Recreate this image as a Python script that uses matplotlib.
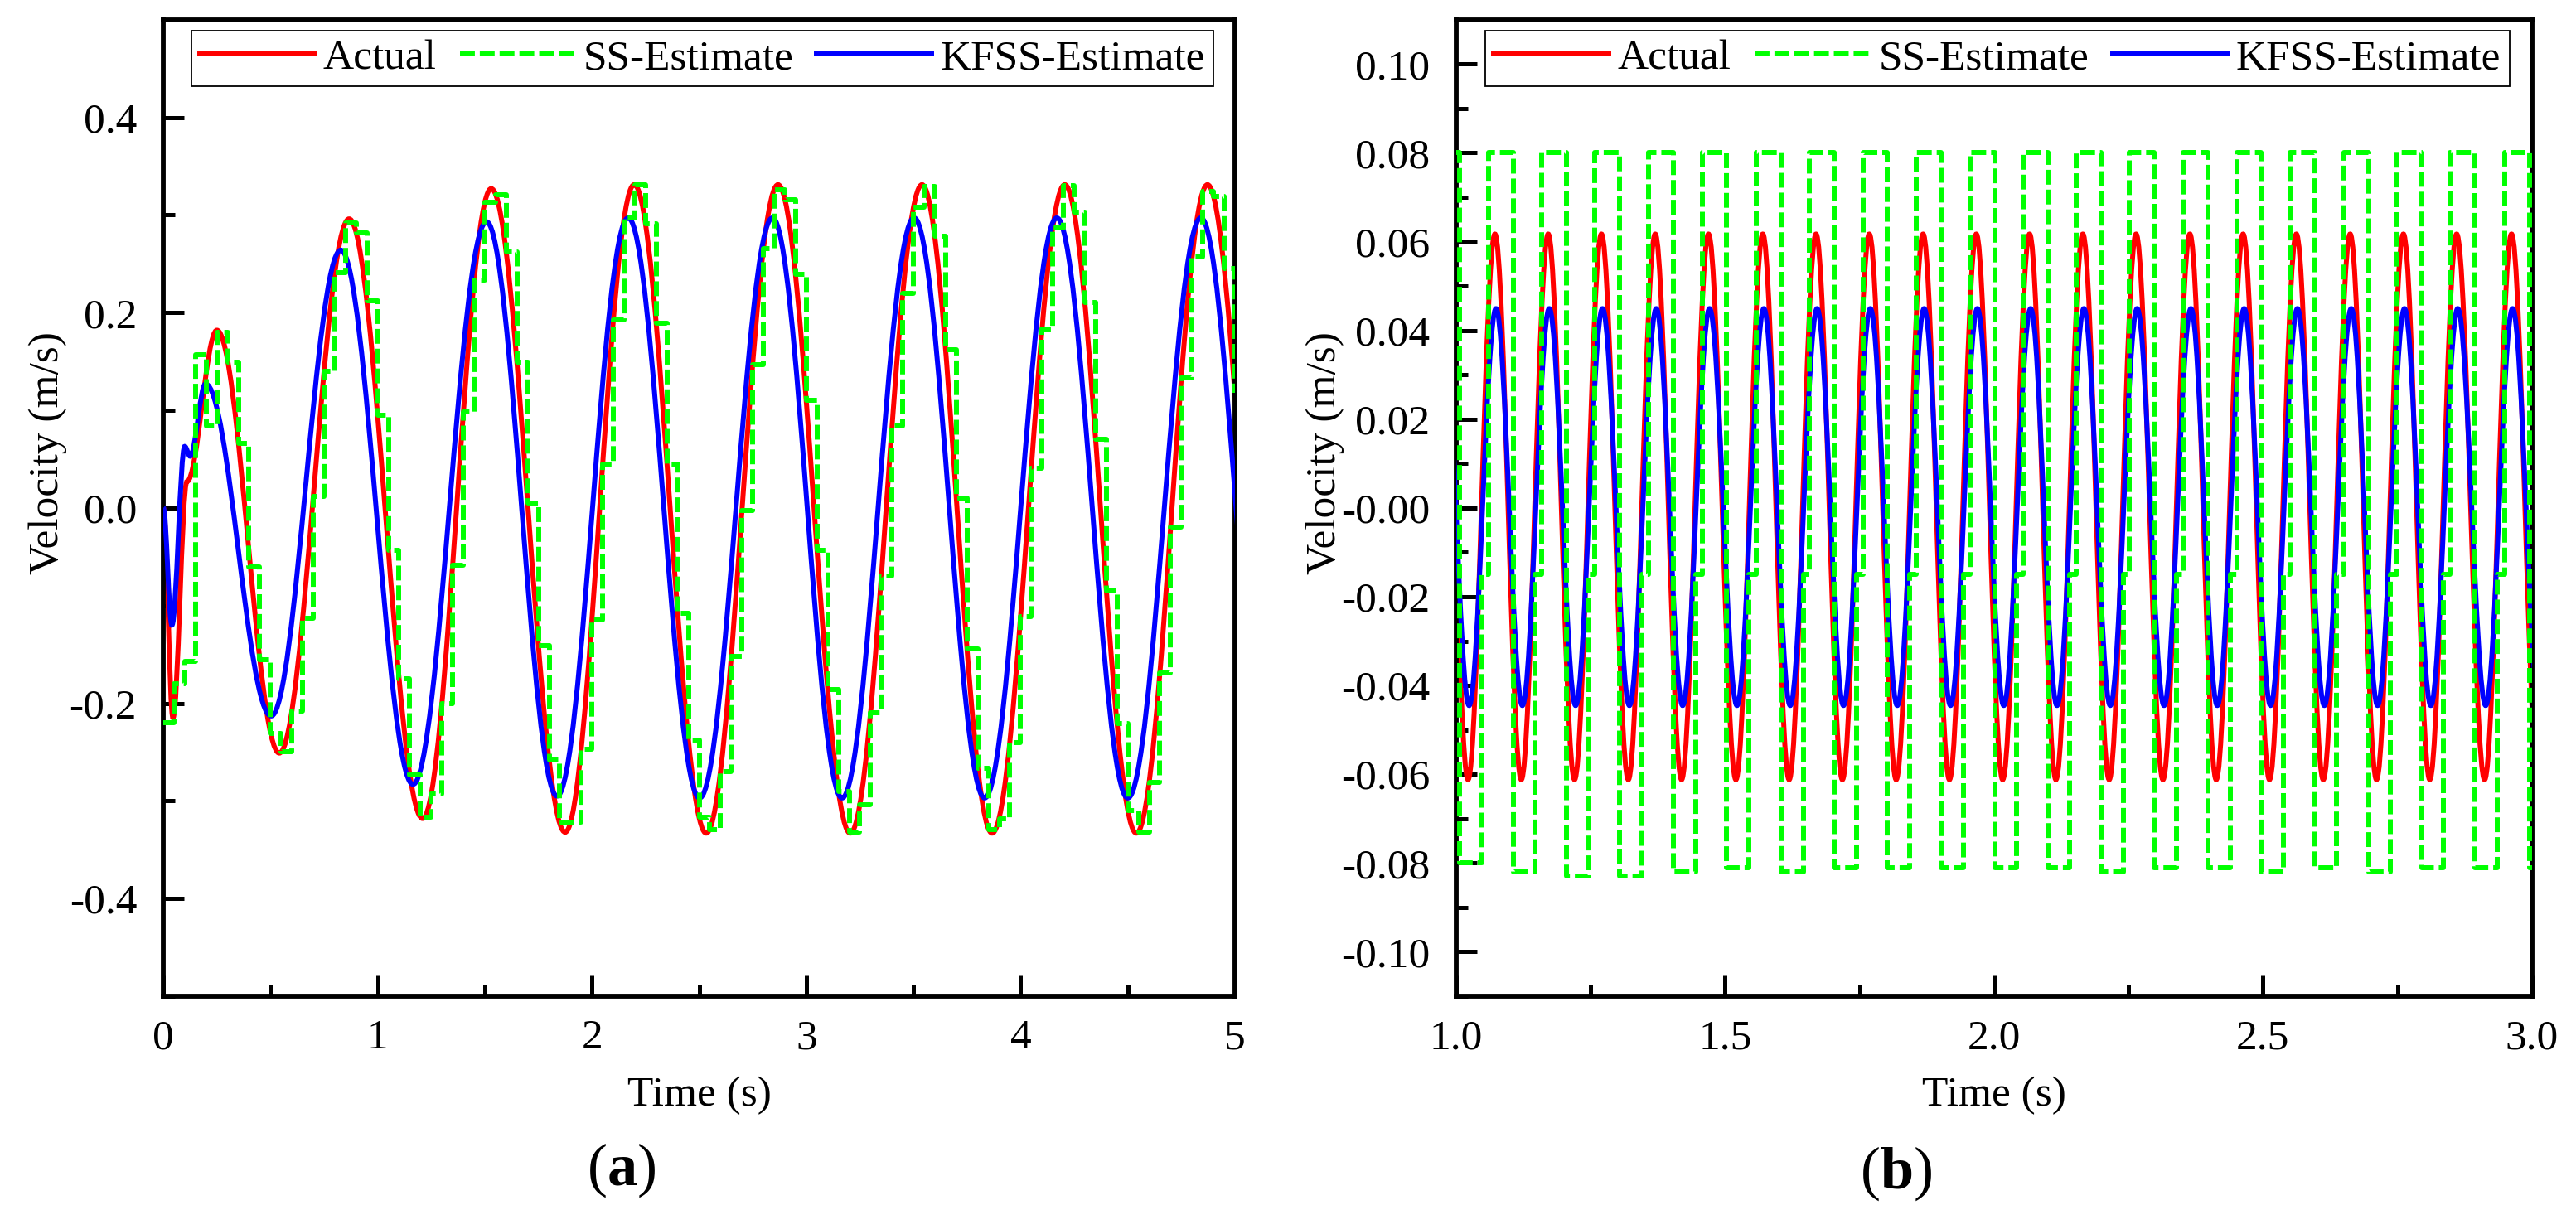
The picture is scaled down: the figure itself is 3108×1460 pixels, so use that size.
import numpy as np
import matplotlib
matplotlib.use("Agg")
import matplotlib.pyplot as plt
from matplotlib.path import Path
from matplotlib.patches import PathPatch
from matplotlib.lines import Line2D
from matplotlib.ticker import MultipleLocator, FormatStrFormatter

plt.rcParams['font.family'] = ['Liberation Serif', 'DejaVu Serif']
plt.rcParams['axes.unicode_minus'] = False
plt.rcParams['mathtext.fontset'] = 'custom'
plt.rcParams['mathtext.rm'] = 'Liberation Serif'
plt.rcParams['mathtext.bf'] = 'Liberation Serif:bold'

# ---- panel (a): extrema of the smooth curves (time s, velocity m/s)
act_a_t = [0.0, 0.045, 0.11, 0.25, 0.541, 0.867, 1.21, 1.53, 1.875, 2.197,
           2.533, 2.868, 3.205, 3.54, 3.867, 4.206, 4.54, 4.872, 5.205]
act_a_v = [0.0, -0.215, 0.027, 0.182, -0.251, 0.296, -0.318, 0.327, -0.332, 0.331,
           -0.333, 0.331, -0.333, 0.331, -0.333, 0.331, -0.333, 0.331, -0.333]

kf_a_t = [0.0, 0.04, 0.10, 0.125, 0.197, 0.503, 0.828, 1.165, 1.508, 1.837,
          2.169, 2.502, 2.842, 3.167, 3.503, 3.832, 4.169, 4.50, 4.841, 5.17]
kf_a_v = [0.0, -0.12, 0.063, 0.053, 0.127, -0.213, 0.264, -0.283, 0.293, -0.295,
          0.297, -0.297, 0.297, -0.297, 0.297, -0.297, 0.297, -0.297, 0.297, -0.297]

# SS estimate, held samples every 0.05 s from t = 0
ss_a_t = np.linspace(0.0, 5.0, 101)
ss_a_v = [-0.220, -0.180, -0.157, 0.157, 0.084, 0.180, 0.149, 0.066, -0.060, -0.155,
          -0.231, -0.250, -0.208, -0.113, 0.012, 0.140, 0.241, 0.292, 0.282, 0.212,
          0.095, -0.043, -0.175, -0.273, -0.317, -0.293, -0.200, -0.059, 0.098, 0.233,
          0.313, 0.321, 0.262, 0.149, 0.005, -0.141, -0.258, -0.323, -0.322, -0.247,
          -0.115, 0.045, 0.193, 0.297, 0.331, 0.291, 0.189, 0.045, -0.108, -0.238,
          -0.317, -0.329, -0.270, -0.152, -0.003, 0.147, 0.266, 0.326, 0.316, 0.239,
          0.110, -0.043, -0.186, -0.290, -0.332, -0.304, -0.210, -0.070, 0.084, 0.220,
          0.308, 0.329, 0.278, 0.162, 0.010, -0.144, -0.267, -0.329, -0.318, -0.240,
          -0.111, 0.041, 0.183, 0.287, 0.330, 0.303, 0.210, 0.070, -0.085, -0.221,
          -0.310, -0.332, -0.281, -0.169, -0.020, 0.133, 0.257, 0.324, 0.319, 0.245,
          0.118]

# ---- panel (b)
act_b_peak_t = [0.973, 1.072, 1.171, 1.270, 1.370, 1.469, 1.570, 1.669, 1.768, 1.868, 1.967,
                2.066, 2.165, 2.264, 2.364, 2.463, 2.562, 2.662, 2.761, 2.860, 2.962]
act_b_trough_t = [1.022, 1.121, 1.220, 1.320, 1.419, 1.520, 1.619, 1.718, 1.818, 1.917, 2.016,
                  2.115, 2.214, 2.314, 2.413, 2.512, 2.612, 2.711, 2.810, 2.912, 3.012]
act_b_peak = 0.0617
act_b_trough = -0.0612

kf_b_peak_t = [0.975, 1.074, 1.173, 1.272, 1.372, 1.471, 1.572, 1.671, 1.770, 1.870, 1.969,
               2.068, 2.167, 2.266, 2.366, 2.465, 2.564, 2.664, 2.763, 2.862, 2.964]
kf_b_trough_t = [1.024, 1.123, 1.222, 1.322, 1.421, 1.522, 1.621, 1.720, 1.820, 1.919, 2.018,
                 2.117, 2.216, 2.316, 2.415, 2.514, 2.614, 2.713, 2.812, 2.914, 3.014]
kf_b_peak = 0.0449
kf_b_trough = -0.0445

# SS estimate switching instants and levels
ss_b_high_t = [0.961, 1.060, 1.159, 1.258, 1.358, 1.457, 1.558, 1.657, 1.756, 1.856, 1.955,
               2.054, 2.153, 2.252, 2.352, 2.451, 2.550, 2.650, 2.749, 2.848, 2.950]
ss_b_low_t = [1.007, 1.106, 1.205, 1.304, 1.404, 1.503, 1.604, 1.703, 1.802, 1.902, 2.001,
              2.100, 2.199, 2.298, 2.398, 2.497, 2.596, 2.696, 2.795, 2.894, 2.996]
ss_b_mid_t = [1.048, 1.147, 1.246, 1.345, 1.445, 1.544, 1.645, 1.744, 1.843, 1.943, 2.042,
              2.141, 2.240, 2.339, 2.439, 2.538, 2.637, 2.737, 2.836, 2.935, 3.037]
ss_b_high = 0.080
ss_b_mid = -0.015
ss_b_low_v = [-0.080, -0.082, -0.083, -0.083, -0.082, -0.081, -0.082, -0.081, -0.081, -0.081, -0.081,
              -0.081, -0.082, -0.081, -0.081, -0.082, -0.081, -0.082, -0.081, -0.081, -0.081]

labels = ['Actual', 'SS-Estimate', 'KFSS-Estimate']

RED = '#FF0000'
GREEN = '#00FF00'
BLUE = '#0000FF'
LW = 4.3
DASH = (3.0, 1.0)
FS = 37


def smooth_path(ts, vs):
    # cubic bezier between consecutive extrema, flat tangent at each extremum
    ts = np.asarray(ts, float)
    vs = np.asarray(vs, float)
    order = np.argsort(ts)
    ts, vs = ts[order], vs[order]
    k = (np.pi - 2.0) / np.pi
    verts = [(ts[0], vs[0])]
    codes = [Path.MOVETO]
    for t0, v0, t1, v1 in zip(ts[:-1], vs[:-1], ts[1:], vs[1:]):
        dt = t1 - t0
        verts += [(t0 + k * dt, v0), (t1 - k * dt, v1), (t1, v1)]
        codes += [Path.CURVE4] * 3
    return Path(verts, codes)


def draw_curves(ax, act, kf, ss):
    ax.add_patch(PathPatch(smooth_path(*act), fill=False, edgecolor=RED, lw=LW, zorder=2))
    ax.add_patch(PathPatch(smooth_path(*kf), fill=False, edgecolor=BLUE, lw=LW, zorder=3))
    ax.step(ss[0], ss[1], where='post', color=GREEN, lw=LW, dashes=DASH, zorder=4)


def style_axes(ax, xpad=20, ypad=23):
    ax.tick_params(which='both', direction='in', top=False, right=False,
                   width=3.6, labelsize=FS, color='black')
    ax.tick_params(which='major', length=18)
    ax.tick_params(which='minor', length=10)
    ax.tick_params(axis='x', which='major', pad=xpad)
    ax.tick_params(axis='y', which='major', pad=ypad)
    for sp in ax.spines.values():
        sp.set_linewidth(4.2)
    ax.set_xlabel('Time (s)', fontsize=FS)
    ax.set_ylabel('Velocity (m/s)', fontsize=FS)
    ax.xaxis.label.set_va('center')
    ax.yaxis.label.set_va('center')
    handles = [Line2D([], [], color=RED, lw=LW),
               Line2D([], [], color=GREEN, lw=LW, dashes=DASH),
               Line2D([], [], color=BLUE, lw=LW)]
    return handles


fig = plt.figure(figsize=(31.08, 14.6), dpi=100)
ax1 = fig.add_axes([0.0634, 0.1767, 0.416, 0.807])
ax2 = fig.add_axes([0.5653, 0.1767, 0.4176, 0.807])

# panel (a)
draw_curves(ax1, (act_a_t, act_a_v), (kf_a_t, kf_a_v), (ss_a_t, ss_a_v))
ax1.set_xlim(0, 5)
ax1.set_ylim(-0.5, 0.5)
ax1.xaxis.set_major_locator(MultipleLocator(1))
ax1.xaxis.set_minor_locator(MultipleLocator(0.5))
ax1.xaxis.set_major_formatter(FormatStrFormatter('%d'))
ax1.yaxis.set_major_locator(MultipleLocator(0.2))
ax1.yaxis.set_minor_locator(MultipleLocator(0.1))
ax1.yaxis.set_major_formatter(FormatStrFormatter('%.1f'))
h = style_axes(ax1)
ax1.xaxis.set_label_coords(0.5, -0.102)
ax1.yaxis.set_label_coords(-0.108, 0.556)
ax1.legend(h, labels, loc='upper left', bbox_to_anchor=(0.026, 0.918, 0.954, 0.071),
           mode='expand', ncol=3, fontsize=FS, frameon=True, fancybox=False,
           edgecolor='black', framealpha=1, borderaxespad=0, borderpad=0.2,
           handlelength=2.7, handletextpad=0.2, columnspacing=0.3).get_frame().set_linewidth(1.3)

# panel (b)
b_act_t = act_b_peak_t + act_b_trough_t
b_act_v = [act_b_peak] * len(act_b_peak_t) + [act_b_trough] * len(act_b_trough_t)
b_kf_t = kf_b_peak_t + kf_b_trough_t
b_kf_v = [kf_b_peak] * len(kf_b_peak_t) + [kf_b_trough] * len(kf_b_trough_t)
b_ss_t = np.array(ss_b_high_t + ss_b_low_t + ss_b_mid_t)
b_ss_v = np.array([ss_b_high] * len(ss_b_high_t) + ss_b_low_v + [ss_b_mid] * len(ss_b_mid_t))
o = np.argsort(b_ss_t)
draw_curves(ax2, (b_act_t, b_act_v), (b_kf_t, b_kf_v), (b_ss_t[o], b_ss_v[o]))
ax2.set_xlim(1.0, 3.0)
ax2.set_ylim(-0.11, 0.11)
ax2.xaxis.set_major_locator(MultipleLocator(0.5))
ax2.xaxis.set_minor_locator(MultipleLocator(0.25))
ax2.xaxis.set_major_formatter(FormatStrFormatter('%.1f'))
ax2.yaxis.set_major_locator(MultipleLocator(0.02))
ax2.yaxis.set_minor_locator(MultipleLocator(0.01))
ax2.yaxis.set_major_formatter(FormatStrFormatter('%.2f'))
h = style_axes(ax2, ypad=23)
ax2.xaxis.set_label_coords(0.5, -0.102)
ax2.yaxis.set_label_coords(-0.122, 0.556)
ax2.legend(h, labels, loc='upper left', bbox_to_anchor=(0.027, 0.918, 0.952, 0.071),
           mode='expand', ncol=3, fontsize=FS, frameon=True, fancybox=False,
           edgecolor='black', framealpha=1, borderaxespad=0, borderpad=0.2,
           handlelength=2.7, handletextpad=0.2, columnspacing=0.3).get_frame().set_linewidth(1.3)

fig.text(0.2413, 0.033, r'($\mathbf{a}$)', fontsize=52, ha='center', va='center')
fig.text(0.7359, 0.030, r'($\mathbf{b}$)', fontsize=52, ha='center', va='center')

fig.savefig('out.png', dpi=100)
